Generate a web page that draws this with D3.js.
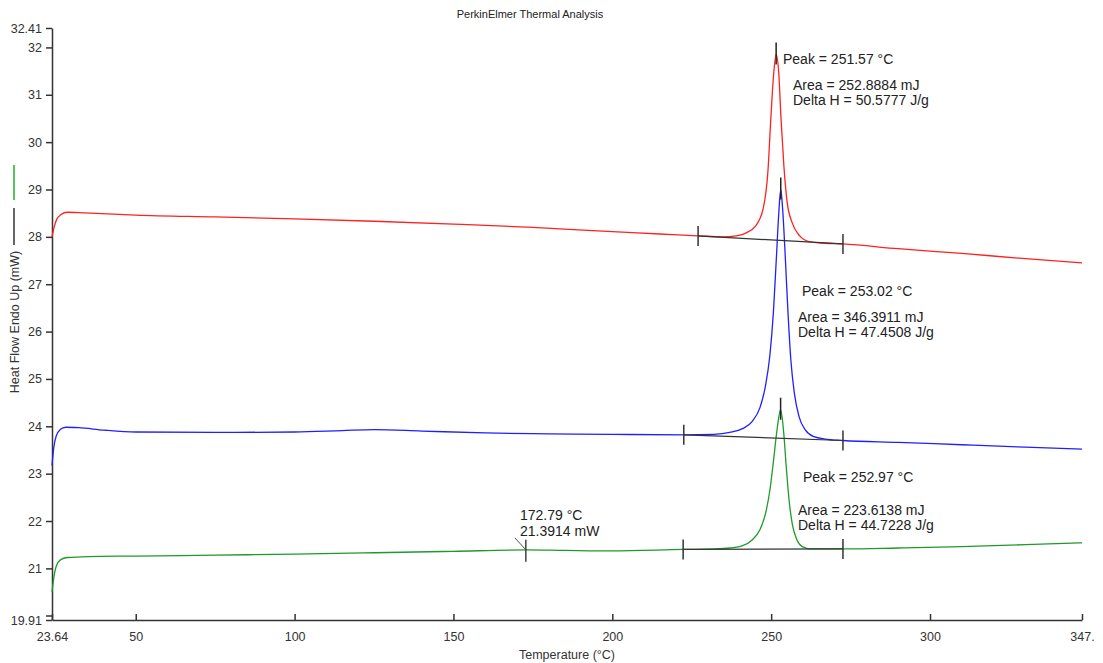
<!DOCTYPE html>
<html>
<head>
<meta charset="utf-8">
<script src="https://cdn.jsdelivr.net/npm/d3@7"></script>
<style>
	body { margin: 0; background: #fff; }
	svg { font-family: "Liberation Sans", Arial, sans-serif; }
	.axis path, .axis line { stroke: #333; stroke-width: 1.5; }
	.axis text { fill: #333; font-size: 12.5px; }
	.note { fill: #222; font-size: 14px; }
</style>
</head>
<body>
<svg id="chart" width="1103" height="663"></svg>
<script>
// axis limits and ticks
const xTicks = [23.64, 50, 100, 150, 200, 250, 300, 347.84];
const yTicks = [19.91, 21, 22, 23, 24, 25, 26, 27, 28, 29, 30, 31, 32, 32.41];

// curves: [temperature, heat flow]
const redCurve = [
	[23.64, 28.0], [24.3, 28.2], [25.2, 28.38], [26.5, 28.47], [28.5, 28.52], [32, 28.51],
	[50, 28.46], [75, 28.42], [100, 28.38], [125, 28.33], [150, 28.27], [175, 28.2],
	[200, 28.11], [215, 28.06], [227, 28.02], [235, 28.0], [239, 28.02], [242, 28.08],
	[245, 28.22], [247.5, 28.6], [249.0, 29.4], [249.9, 30.5], [250.8, 31.45], [251.57, 31.85],
	[252.4, 31.45], [253.1, 30.5], [254.0, 29.5], [255.0, 28.75], [256.6, 28.3], [259, 28.02],
	[262, 27.9], [266, 27.87], [272.6, 27.85], [290, 27.75], [310, 27.65], [330, 27.54], [347.84, 27.45]
];
const blueCurve = [
	[23.64, 23.17], [24.2, 23.55], [25, 23.8], [26.2, 23.93], [28, 23.98], [32, 23.97],
	[40, 23.92], [50, 23.88], [75, 23.87], [100, 23.88], [115, 23.91], [125, 23.93],
	[140, 23.9], [160, 23.86], [180, 23.84], [200, 23.83], [222.5, 23.82], [232, 23.83],
	[237, 23.87], [241, 23.95], [244, 24.1], [246.5, 24.4], [248.2, 24.85], [249.6, 25.5],
	[250.7, 26.4], [251.6, 27.5], [252.4, 28.5], [253.02, 29.0], [253.7, 28.5], [254.5, 27.5],
	[255.3, 26.4], [256.2, 25.4], [257.3, 24.7], [258.8, 24.2], [260.8, 23.92], [263.5, 23.78],
	[267, 23.73], [272.6, 23.7], [290, 23.66], [310, 23.61], [330, 23.56], [347.84, 23.52]
];
const greenCurve = [
	[23.64, 20.5], [24.2, 20.8], [25, 21.05], [26.3, 21.18], [28.5, 21.23], [35, 21.25],
	[50, 21.26], [75, 21.28], [100, 21.3], [125, 21.33], [150, 21.36], [172.79, 21.39],
	[185, 21.38], [200, 21.37], [222.3, 21.4], [232, 21.41], [237, 21.43], [241, 21.48],
	[244, 21.6], [246.5, 21.82], [248.2, 22.15], [249.6, 22.65], [250.7, 23.25], [251.8, 23.9],
	[252.97, 24.35], [253.9, 23.9], [254.8, 23.1], [255.7, 22.4], [256.7, 21.92], [258, 21.62],
	[259.8, 21.46], [262.5, 21.41], [272.6, 21.41], [290, 21.43], [310, 21.46], [330, 21.5], [347.84, 21.54]
];

// peak integration results
const peakTemps = [251.57, 253.02, 252.97];
const peakValues = [31.85, 29.0, 24.35];
const areas = ["252.8884", "346.3911", "223.6138"];
const deltaH = ["50.5777", "47.4508", "44.7228"];
// baseline limits [t1, v1, t2, v2]
const baselines = [
	[227, 28.02, 272.6, 27.85],
	[222.5, 23.82, 272.6, 23.70],
	[222.3, 21.40, 272.6, 21.41]
];
const onset = { temp: 172.79, value: 21.3914 };

const svg = d3.select("#chart");

const x = d3.scaleLinear().domain([23.64, 347.84]).range([52, 1082]);
const y = d3.scaleLinear().domain([19.91, 32.41]).range([620, 28]);

// title
svg.append("text")
	.attr("x", 530).attr("y", 18)
	.attr("text-anchor", "middle")
	.attr("font-size", 11).attr("fill", "#222")
	.text("PerkinElmer Thermal Analysis");

// axes
svg.append("g")
	.attr("class", "axis")
	.attr("transform", "translate(0,620)")
	.call(d3.axisBottom(x).tickValues(xTicks).tickSize(6).tickSizeOuter(0)
		.tickFormat(d => d === 347.84 ? "347." : String(d)))
	.call(g => g.selectAll(".tick line").attr("y1", -6).attr("y2", 0))
	.call(g => g.selectAll(".tick text").attr("y", 12));

svg.append("g")
	.attr("class", "axis")
	.attr("transform", "translate(52,0)")
	.call(d3.axisLeft(y).tickValues(yTicks).tickSize(6).tickSizeOuter(0)
		.tickFormat(d => String(d)))
	.call(g => g.selectAll(".tick text").attr("x", -10));

// second tick for axis break at bottom
svg.append("line")
	.attr("x1", 46).attr("x2", 52)
	.attr("y1", y(19.91) - 4).attr("y2", y(19.91) - 4)
	.attr("stroke", "#333").attr("stroke-width", 1.5);

svg.append("text")
	.attr("x", 567).attr("y", 659)
	.attr("text-anchor", "middle")
	.attr("font-size", 12.5).attr("fill", "#333")
	.text("Temperature (°C)");

svg.append("text")
	.attr("transform", "translate(19,322) rotate(-90)")
	.attr("text-anchor", "middle")
	.attr("font-size", 12.5).attr("fill", "#333")
	.text("Heat Flow Endo Up (mW)");

// legend marks
svg.append("line").attr("x1", 14).attr("x2", 14).attr("y1", 165).attr("y2", 200)
	.attr("stroke", "#22b022").attr("stroke-width", 1.5);
svg.append("line").attr("x1", 14).attr("x2", 14).attr("y1", 208).attr("y2", 245)
	.attr("stroke", "#333").attr("stroke-width", 1.5);

// curves
const line = d3.line()
	.x(d => x(d[0]))
	.y(d => y(d[1]))
	.curve(d3.curveMonotoneX);

const curves = [redCurve, blueCurve, greenCurve];
const colors = ["#ff2020", "#2020ff", "#1f9a2a"];

curves.forEach((c, i) => {
	svg.append("path")
		.datum(c)
		.attr("fill", "none")
		.attr("stroke", colors[i])
		.attr("stroke-width", 1.3)
		.attr("d", line);
});

// baselines with end ticks
baselines.forEach(b => {
	svg.append("line")
		.attr("x1", x(b[0])).attr("y1", y(b[1]))
		.attr("x2", x(b[2])).attr("y2", y(b[3]))
		.attr("stroke", "#333").attr("stroke-width", 1.2);
	[[b[0], b[1]], [b[2], b[3]]].forEach(p => {
		svg.append("line")
			.attr("x1", x(p[0])).attr("x2", x(p[0]))
			.attr("y1", y(p[1]) - 10).attr("y2", y(p[1]) + 10)
			.attr("stroke", "#333").attr("stroke-width", 1.5);
	});
});

// peak markers
peakTemps.forEach((t, i) => {
	svg.append("line")
		.attr("x1", x(t)).attr("x2", x(t))
		.attr("y1", y(peakValues[i]) - 12).attr("y2", y(peakValues[i]) + 10)
		.attr("stroke", "#222").attr("stroke-width", 1.5);
});

// annotation text positions
const notePos = [
	{ px: 783, py: 64, ax: 793, ay: 90 },
	{ px: 802, py: 296, ax: 798, ay: 322 },
	{ px: 803, py: 482, ax: 798, ay: 515 }
];
notePos.forEach((p, i) => {
	svg.append("text").attr("class", "note").attr("x", p.px).attr("y", p.py)
		.text(`Peak = ${peakTemps[i].toFixed(2)} °C`);
	svg.append("text").attr("class", "note").attr("x", p.ax).attr("y", p.ay)
		.text(`Area = ${areas[i]} mJ`);
	svg.append("text").attr("class", "note").attr("x", p.ax).attr("y", p.ay + 15)
		.text(`Delta H = ${deltaH[i]} J/g`);
});

// onset marker
const ox = x(onset.temp), oy = y(onset.value);
svg.append("line")
	.attr("x1", ox).attr("x2", ox).attr("y1", oy - 10).attr("y2", oy + 12)
	.attr("stroke", "#222").attr("stroke-width", 1.3);
svg.append("line")
	.attr("x1", ox - 11).attr("y1", oy - 12).attr("x2", ox).attr("y2", oy)
	.attr("stroke", "#555").attr("stroke-width", 1);
svg.append("text").attr("class", "note").attr("x", 520).attr("y", 520)
	.text(`${onset.temp} °C`);
svg.append("text").attr("class", "note").attr("x", 520).attr("y", 536)
	.text(`${onset.value} mW`);
</script>
</body>
</html>
